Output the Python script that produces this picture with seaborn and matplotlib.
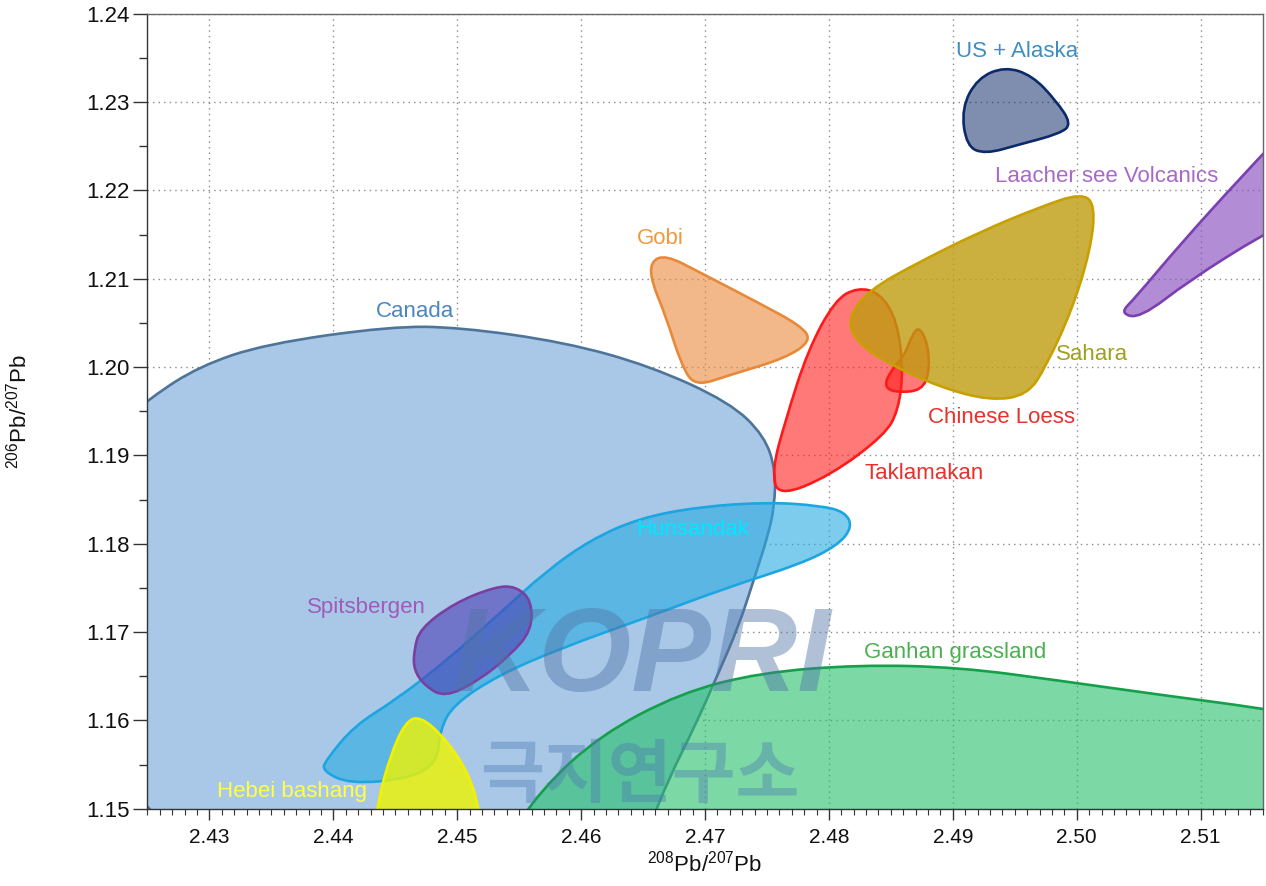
import matplotlib
matplotlib.use("Agg")
import matplotlib.pyplot as plt
from matplotlib.path import Path
from matplotlib.patches import PathPatch
from matplotlib.ticker import MultipleLocator, FormatStrFormatter
import seaborn as sns

# Control vertices of each source-region outline (208Pb/207Pb, 206Pb/207Pb)
canada_x = [2.4212, 2.4252, 2.4292, 2.4345, 2.4446, 2.4502, 2.4587, 2.4656, 2.4720, 2.4748,
            2.4757, 2.4756, 2.4751, 2.4740, 2.4727, 2.4710, 2.4692, 2.4670, 2.4654, 2.4639, 2.4212]
canada_y = [1.1917, 1.1965, 1.2001, 1.2026, 1.2046, 1.2045, 1.2028, 1.2001, 1.1960, 1.1922,
            1.1883, 1.1843, 1.1810, 1.1762, 1.1706, 1.1651, 1.1594, 1.1532, 1.1475, 1.1419, 1.1419]

ganhan_x = [2.4535, 2.4567, 2.4615, 2.4680, 2.4744, 2.4825, 2.4906, 2.4986, 2.5067, 2.5148,
            2.5196, 2.5196, 2.4535]
ganhan_y = [1.1453, 1.1521, 1.1583, 1.1631, 1.1654, 1.1663, 1.1660, 1.1645, 1.1629, 1.1614,
            1.1602, 1.1441, 1.1441]

hunsandak_x = [2.4394, 2.4417, 2.4450, 2.4490, 2.4535, 2.4571, 2.4607, 2.4647, 2.4696, 2.4752,
               2.4793, 2.4813, 2.4819, 2.4807, 2.4777, 2.4719, 2.4652, 2.4584, 2.4533, 2.4497,
               2.4486, 2.4484, 2.4461, 2.4413, 2.4391]
hunsandak_y = [1.1555, 1.1594, 1.1623, 1.1666, 1.1722, 1.1768, 1.1804, 1.1829, 1.1842, 1.1847,
               1.1843, 1.1836, 1.1819, 1.1798, 1.1777, 1.1751, 1.1716, 1.1682, 1.1651, 1.1618,
               1.1589, 1.1552, 1.1534, 1.1528, 1.1543]

hebei_x = [2.4458, 2.4470, 2.4490, 2.4509, 2.4518, 2.4522, 2.4431, 2.4436, 2.4446]
hebei_y = [1.1598, 1.1605, 1.1580, 1.1541, 1.1498, 1.1453, 1.1453, 1.1509, 1.1560]

spits_x = [2.4465, 2.4470, 2.4498, 2.4530, 2.4547, 2.4560, 2.4560, 2.4543, 2.4517, 2.4490,
           2.4474, 2.4465]
spits_y = [1.1679, 1.1704, 1.1733, 1.1751, 1.1752, 1.1736, 1.1702, 1.1674, 1.1645, 1.1626,
           1.1639, 1.1657]

gobi_x = [2.4656, 2.4668, 2.4696, 2.4744, 2.4777, 2.4786, 2.4765, 2.4720, 2.4692, 2.4681,
          2.4668, 2.4657]
gobi_y = [1.2119, 1.2127, 1.2107, 1.2072, 1.2047, 1.2030, 1.2010, 1.1991, 1.1978, 1.2002,
          1.2059, 1.2096]

takla_x = [2.4823, 2.4841, 2.4855, 2.4860, 2.4856, 2.4845, 2.4801, 2.4759, 2.4754, 2.4765,
           2.4783, 2.4805]
takla_y = [1.2090, 1.2084, 1.2053, 1.1996, 1.1951, 1.1923, 1.1877, 1.1853, 1.1883, 1.1940,
           1.2019, 1.2076]

loess_x = [2.4873, 2.4880, 2.4881, 2.4875, 2.4857, 2.4845, 2.4848, 2.4861, 2.4867]
loess_y = [1.2046, 1.2025, 1.1994, 1.1974, 1.1971, 1.1976, 1.1992, 1.2013, 1.2036]

sahara_x = [2.4815, 2.4832, 2.4873, 2.4922, 2.4970, 2.5004, 2.5015, 2.5011, 2.4996, 2.4975,
            2.4960, 2.4930, 2.4890, 2.4849, 2.4822]
sahara_y = [1.2055, 1.2087, 1.2119, 1.2153, 1.2181, 1.2197, 1.2183, 1.2132, 1.2064, 1.2000,
            1.1968, 1.1962, 1.1977, 1.2003, 1.2028]

usak_x = [2.4942, 2.4964, 2.4983, 2.4996, 2.4986, 2.4954, 2.4926, 2.4911, 2.4907, 2.4920]
usak_y = [1.2340, 1.2330, 1.2302, 1.2275, 1.2264, 1.2252, 1.2241, 1.2250, 1.2293, 1.2327]

laacher_x = [2.5035, 2.5047, 2.5083, 2.5132, 2.5180, 2.5196, 2.5150, 2.5091, 2.5051]
laacher_y = [1.2061, 1.2078, 1.2138, 1.2214, 1.2285, 1.2183, 1.2150, 1.2098, 1.2055]

# Region names, label anchors and colours (drawing order)
names = ["Canada", "Ganhan grassland", "Hunsandak", "Hebei bashang", "Spitsbergen",
         "Gobi", "Taklamakan", "Chinese Loess", "Sahara", "US + Alaska",
         "Laacher see Volcanics"]
outlines = [(canada_x, canada_y), (ganhan_x, ganhan_y), (hunsandak_x, hunsandak_y),
            (hebei_x, hebei_y), (spits_x, spits_y), (gobi_x, gobi_y), (takla_x, takla_y),
            (loess_x, loess_y), (sahara_x, sahara_y), (usak_x, usak_y),
            (laacher_x, laacher_y)]
label_x = [2.4466, 2.4902, 2.4690, 2.4367, 2.4427, 2.4664, 2.4877, 2.4939, 2.5012, 2.4952, 2.5024]
label_y = [1.2063, 1.1677, 1.1816, 1.1520, 1.1728, 1.2146, 1.1879, 1.1943, 1.2014, 1.2357, 1.2216]
face_colors = ["#a9c8e8", "#25c06a", "#29abe2", "#f0f500", "#4b3fb5", "#ec8a3c", "#ff2020",
               "#ff2020", "#bf9c10", "#16306e", "#8a4fc0"]
face_alpha = [1.0, 0.6, 0.6, 0.8, 0.6, 0.6, 0.6, 0.6, 0.8, 0.55, 0.65]
edge_colors = ["#4e7499", "#14a04a", "#1ca6e0", "#f2f200", "#7b3fa0", "#e8893a", "#ff1a1a",
               "#ff1a1a", "#c8a000", "#0b2a6a", "#7a3fb0"]
text_colors = ["#4a86c0", "#4cb050", "#00e8ff", "#ffff44", "#9e5cb8", "#f0983e", "#e8302c",
               "#e8302c", "#a0a020", "#3e8ec4", "#a868c8"]

x_ticks = [2.43, 2.44, 2.45, 2.46, 2.47, 2.48, 2.49, 2.50, 2.51]
y_ticks = [1.15, 1.16, 1.17, 1.18, 1.19, 1.20, 1.21, 1.22, 1.23, 1.24]

sns.set_theme(style="ticks")
plt.rcParams["font.family"] = ["Liberation Sans", "DejaVu Sans"]
plt.rcParams["mathtext.fontset"] = "custom"
plt.rcParams["mathtext.rm"] = "Liberation Sans"
plt.rcParams["mathtext.it"] = "Liberation Sans:italic"
plt.rcParams["mathtext.bf"] = "Liberation Sans:bold"


def smooth_outline(xs, ys):
    """Closed quadratic B-spline path through the control polygon."""
    pts = list(zip(xs, ys))
    n = len(pts)
    mids = [((pts[i][0] + pts[(i + 1) % n][0]) / 2, (pts[i][1] + pts[(i + 1) % n][1]) / 2)
            for i in range(n)]
    verts = [mids[-1]]
    codes = [Path.MOVETO]
    for i in range(n):
        verts += [pts[i], mids[i]]
        codes += [Path.CURVE3, Path.CURVE3]
    verts.append(mids[-1])
    codes.append(Path.CLOSEPOLY)
    return Path(verts, codes)


fig = plt.figure(figsize=(12.66, 8.86), dpi=100)
ax = fig.add_axes([0.1165, 0.0872, 0.8808, 0.8974])
ax.set_xlim(2.425, 2.515)
ax.set_ylim(1.15, 1.24)
ax.set_axisbelow(True)

for (xs, ys), fc, fa, ec in zip(outlines, face_colors, face_alpha, edge_colors):
    patch = PathPatch(smooth_outline(xs, ys), facecolor=matplotlib.colors.to_rgba(fc, fa),
                      edgecolor=ec, lw=1.9, joinstyle="round", zorder=2)
    ax.add_patch(patch)

for name, lx, ly, tc in zip(names, label_x, label_y, text_colors):
    ax.text(lx, ly, name, color=tc, fontsize=16, ha="center", va="center", zorder=5)

# faint institute watermark
ax.text(2.4649, 1.1668, "KOPRI", fontsize=86, fontweight="bold", fontstyle="italic",
        color="#4f74a8", alpha=0.45, ha="center", va="center", zorder=6)
ax.text(2.4647, 1.1536, "극지연구소", fontsize=50, fontweight="bold",
        family=["Noto Sans CJK KR", "DejaVu Sans"], color="#4a7ab0", alpha=0.4,
        ha="center", va="center", zorder=6)

ax.set_xticks(x_ticks)
ax.set_yticks(y_ticks)
ax.xaxis.set_major_formatter(FormatStrFormatter("%.2f"))
ax.yaxis.set_major_formatter(FormatStrFormatter("%.2f"))
ax.xaxis.set_minor_locator(MultipleLocator(0.001))
ax.yaxis.set_minor_locator(MultipleLocator(0.005))
ax.tick_params(axis="both", which="major", direction="out", width=1, color="#333333",
               labelcolor="#111111")
ax.tick_params(axis="y", which="major", length=10, pad=3, labelsize=16)
ax.tick_params(axis="y", which="minor", length=6, width=1, color="#333333")
ax.tick_params(axis="x", which="major", length=8, pad=6, labelsize=15)
ax.tick_params(axis="x", which="minor", length=4, width=0.8, color="#333333")

ax.grid(True, which="major", color="#8a8a8a", linestyle=(0, (1, 3)), linewidth=1.0)

for side in ["left", "bottom"]:
    ax.spines[side].set_color("#333333")
for side in ["top", "right"]:
    ax.spines[side].set_color("#666666")
for sp in ax.spines.values():
    sp.set_linewidth(1.0)

ax.set_xlabel(r"$^{208}$Pb/$^{207}$Pb", fontsize=16, color="#111111")
ax.set_ylabel(r"$^{206}$Pb/$^{207}$Pb", fontsize=16, color="#111111")
ax.xaxis.set_label_coords(0.5, -0.053)
ax.yaxis.set_label_coords(-0.104, 0.5)

fig.savefig("out.png", dpi=100)
